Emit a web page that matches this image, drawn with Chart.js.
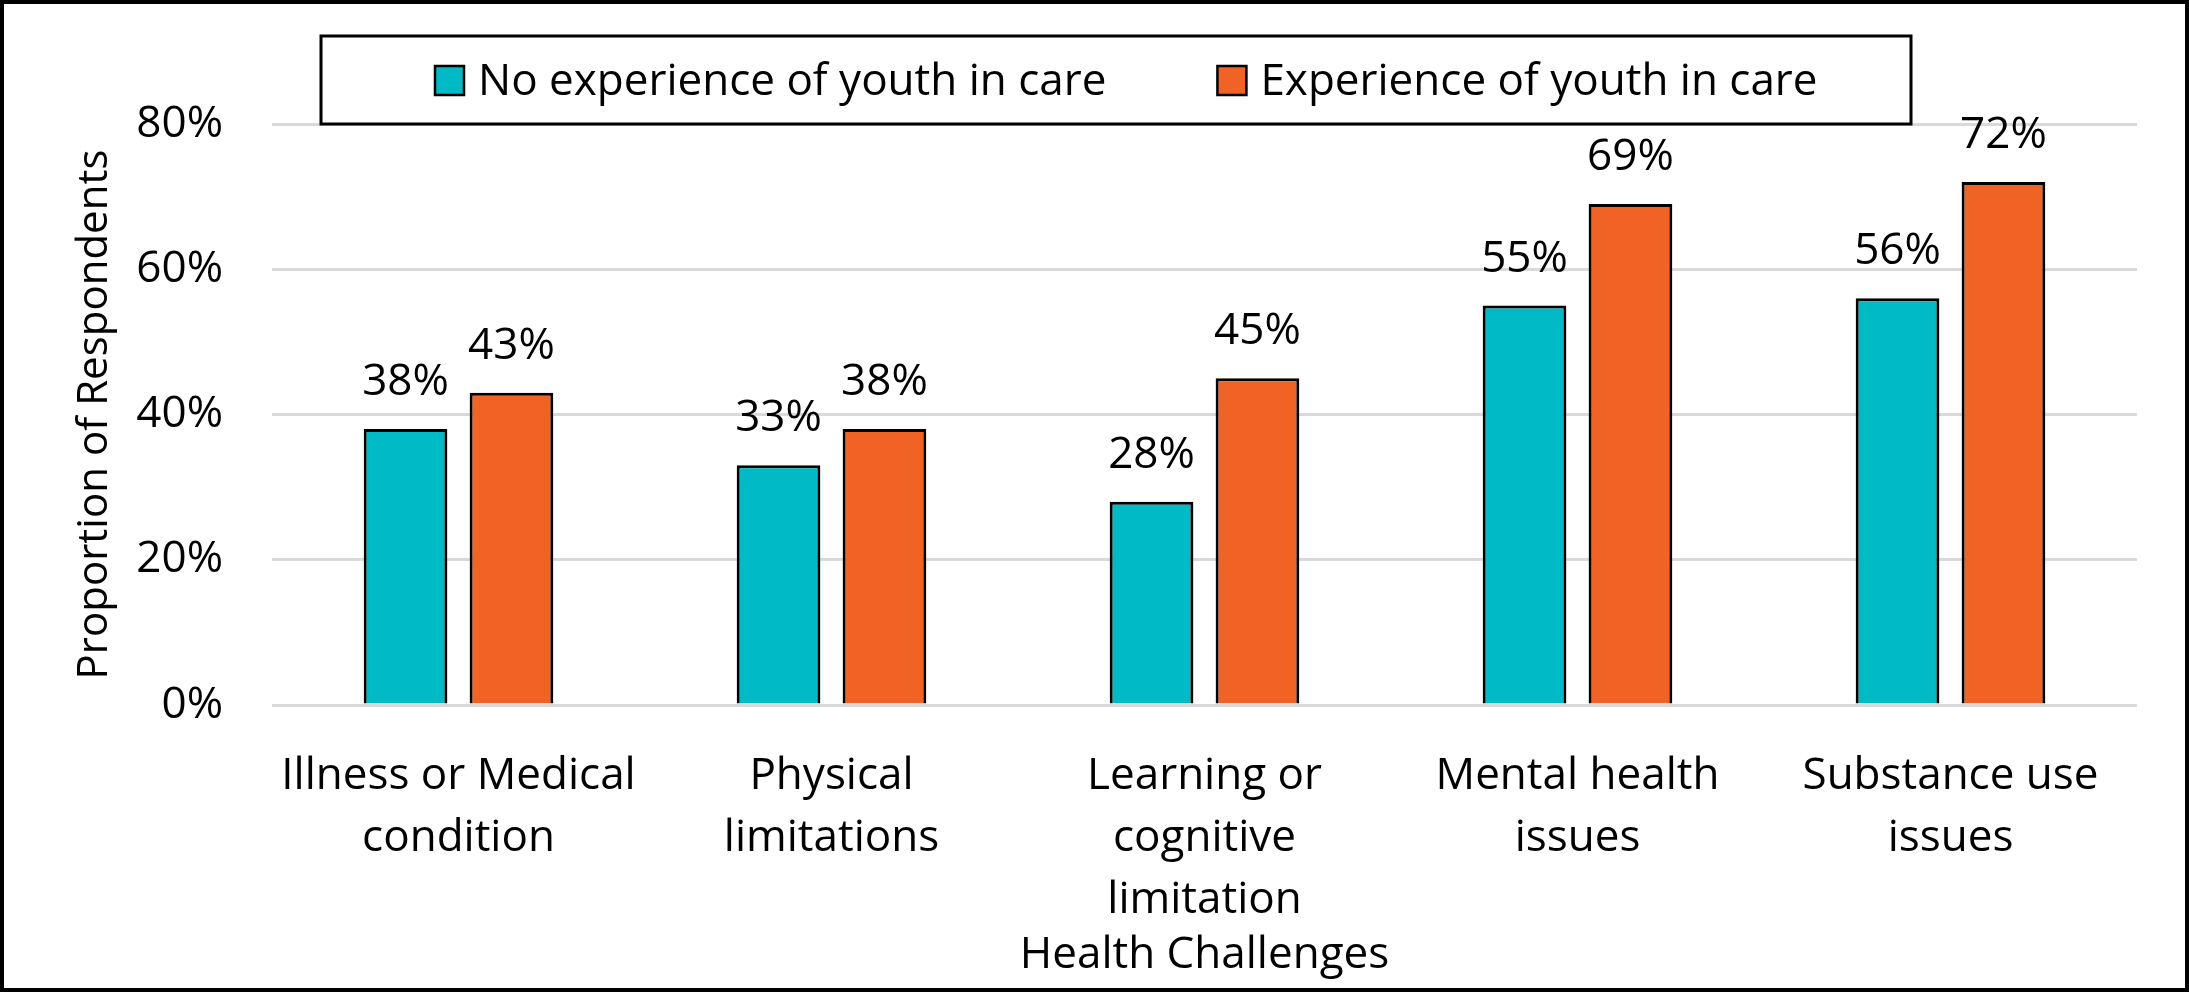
<!DOCTYPE html>
<html>
<head>
<meta charset="utf-8">
<title>Health Challenges</title>
<script src="https://cdn.jsdelivr.net/npm/chart.js@4.4.0/dist/chart.umd.min.js"></script>
<style>
  html, body { margin: 0; padding: 0; background: #fff; }
  #wrap { width: 2189px; height: 992px; position: relative; }
</style>
</head>
<body>
<div id="wrap"><canvas id="chart"></canvas></div>
<script>
// data
const categories = [
  ['Illness or Medical', 'condition'],
  ['Physical', 'limitations'],
  ['Learning or', 'cognitive', 'limitation'],
  ['Mental health', 'issues'],
  ['Substance use', 'issues']
];
const seriesNames = ['No experience of youth in care', 'Experience of youth in care'];
const noCareValues = [38, 33, 28, 55, 56];
const careValues = [43, 38, 45, 69, 72];
const yTicks = [0, 20, 40, 60, 80];

const TEAL = '#00BBC6';
const ORANGE = '#F16324';
const FONT = "'Open Sans', sans-serif";

// frame around the whole picture
const outerBorder = {
  id: 'outerBorder',
  afterDraw(chart) {
    const ctx = chart.ctx;
    ctx.save();
    ctx.strokeStyle = '#000';
    ctx.lineWidth = 4;
    ctx.strokeRect(2, 2, chart.width - 4, chart.height - 4);
    ctx.restore();
  }
};

// value labels above the bars
const barLabels = {
  id: 'barLabels',
  afterDatasetsDraw(chart) {
    const ctx = chart.ctx;
    ctx.save();
    ctx.font = '44px ' + FONT;
    ctx.fillStyle = '#000';
    ctx.textAlign = 'center';
    ctx.textBaseline = 'alphabetic';
    chart.data.datasets.forEach((ds, i) => {
      chart.getDatasetMeta(i).data.forEach((bar, j) => {
        ctx.fillText(ds.data[j] + '%', bar.x, bar.y - 34);
      });
    });
    ctx.restore();
  }
};

// legend drawn inside a framed box
const boxedLegend = {
  id: 'boxedLegend',
  afterDraw(chart) {
    const ctx = chart.ctx;
    ctx.save();
    ctx.fillStyle = '#fff';
    ctx.fillRect(321, 36, 1590, 88);
    ctx.strokeStyle = '#000';
    ctx.lineWidth = 3;
    ctx.strokeRect(321, 36, 1590, 88);

    ctx.font = '44px ' + FONT;
    ctx.textBaseline = 'alphabetic';
    ctx.textAlign = 'left';
    let x = 435;
    chart.data.datasets.forEach(ds => {
      ctx.fillStyle = ds.backgroundColor;
      ctx.fillRect(x, 66, 29, 29);
      ctx.lineWidth = 2.5;
      ctx.strokeStyle = '#000';
      ctx.strokeRect(x, 66, 29, 29);
      ctx.fillStyle = '#000';
      ctx.fillText(ds.label, x + 43, 95);
      x += 43 + ctx.measureText(ds.label).width + 111;
    });
    ctx.restore();
  }
};

new Chart(document.getElementById('chart'), {
  type: 'bar',
  data: {
    labels: categories,
    datasets: [
      {
        label: seriesNames[0],
        data: noCareValues,
        backgroundColor: TEAL,
        borderColor: '#000',
        borderWidth: 3,
        categoryPercentage: 0.568,
        barPercentage: 0.79
      },
      {
        label: seriesNames[1],
        data: careValues,
        backgroundColor: ORANGE,
        borderColor: '#000',
        borderWidth: 3,
        categoryPercentage: 0.568,
        barPercentage: 0.79
      }
    ]
  },
  options: {
    responsive: true,
    maintainAspectRatio: false,
    devicePixelRatio: 1,
    animation: false,
    layout: { padding: { top: 124, left: 4, right: 52, bottom: 4 } },
    plugins: {
      legend: { display: false },
      tooltip: { enabled: false }
    },
    scales: {
      x: {
        grid: { display: false },
        border: { display: false },
        ticks: {
          color: '#000',
          font: { family: FONT, size: 44, lineHeight: 1.4 },
          padding: 33,
          maxRotation: 0,
          autoSkip: false
        },
        title: {
          display: true,
          text: 'Health Challenges',
          color: '#000',
          font: { family: FONT, size: 44 },
          padding: { top: 0, bottom: 6 }
        },
        afterFit(scale) { scale.height = 283; }
      },
      y: {
        min: 0,
        max: 80,
        afterBuildTicks(scale) { scale.ticks = yTicks.map(v => ({ value: v })); },
        grid: { color: '#D9D9D9', lineWidth: 3, drawTicks: false },
        border: { display: false },
        ticks: {
          color: '#000',
          font: { family: FONT, size: 44 },
          padding: 49,
          callback: v => v + '%'
        },
        title: {
          display: true,
          text: 'Proportion of Respondents',
          color: '#000',
          font: { family: FONT, size: 42 },
          padding: { top: 66, bottom: 0 }
        },
        afterFit(scale) { scale.width = 268; }
      }
    }
  },
  plugins: [barLabels, boxedLegend, outerBorder]
});
</script>
</body>
</html>
